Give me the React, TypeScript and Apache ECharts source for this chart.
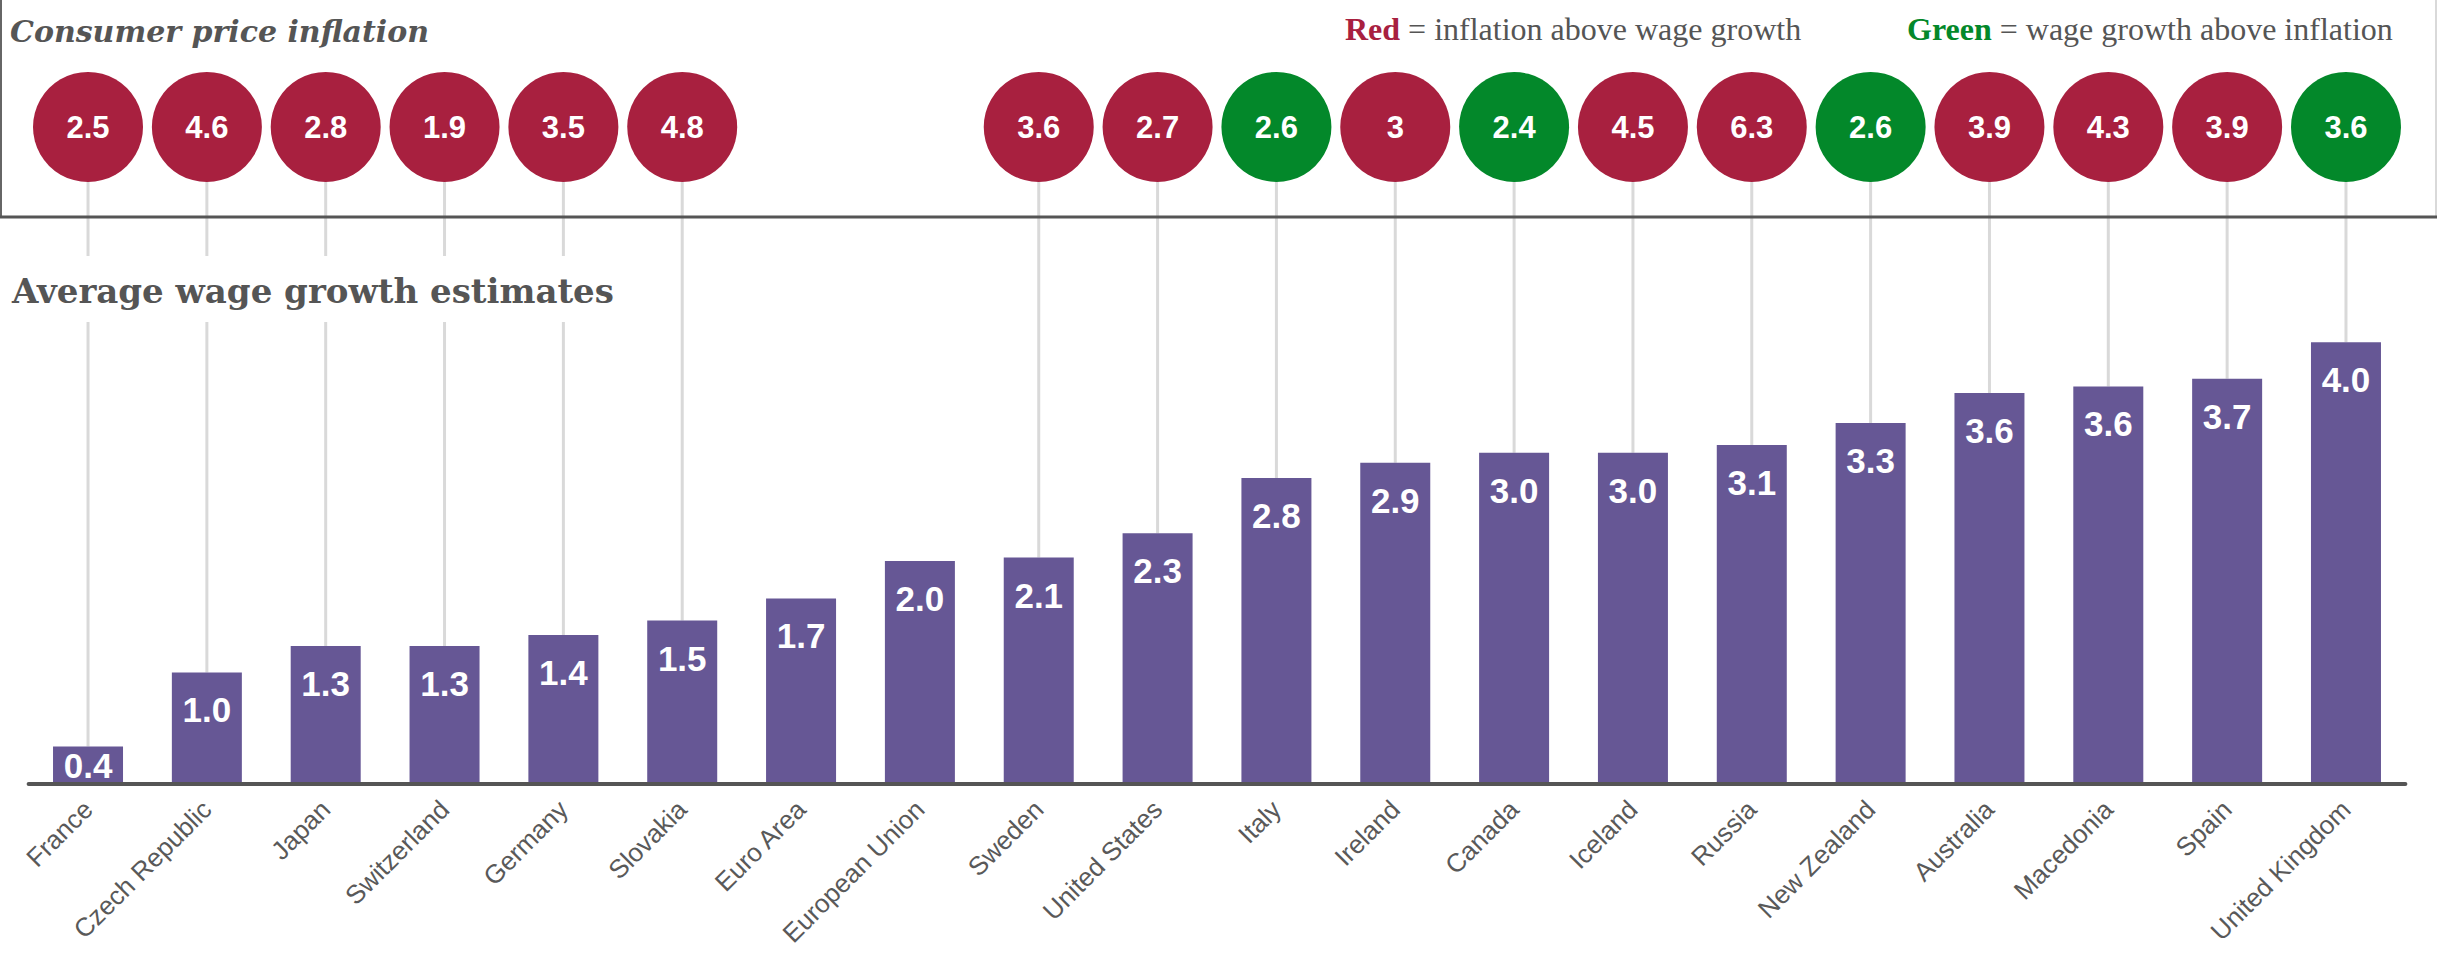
import React, { useEffect, useRef } from "react";
import * as echarts from "echarts";

const countries = [
  "France", "Czech Republic", "Japan", "Switzerland", "Germany", "Slovakia",
  "Euro Area", "European Union", "Sweden", "United States", "Italy", "Ireland",
  "Canada", "Iceland", "Russia", "New Zealand", "Australia", "Macedonia",
  "Spain", "United Kingdom",
];
// displayed wage growth estimates (labels)
const wageGrowth = [0.4, 1.0, 1.3, 1.3, 1.4, 1.5, 1.7, 2.0, 2.1, 2.3, 2.8, 2.9, 3.0, 3.0, 3.1, 3.3, 3.6, 3.6, 3.7, 4.0];
// bar heights
const barHeights = [0.34, 1.01, 1.25, 1.25, 1.35, 1.48, 1.68, 2.02, 2.05, 2.27, 2.77, 2.91, 3.0, 3.0, 3.07, 3.27, 3.54, 3.6, 3.67, 4.0];
// consumer price inflation (null = no figure)
const inflation: (number | null)[] = [2.5, 4.6, 2.8, 1.9, 3.5, 4.8, null, null, 3.6, 2.7, 2.6, 3, 2.4, 4.5, 6.3, 2.6, 3.9, 4.3, 3.9, 3.6];

const RED = "#A8203F";
const GREEN = "#03882A";
const PURPLE = "#665795";
const GRAY = "#555555";
const CIRCLE_Y = 127;
const CIRCLE_R = 55;
const SERIF = "'DejaVu Serif', Georgia, serif";
const LEGEND_SERIF = "'Liberation Serif', 'Times New Roman', serif";
const SANS = "'Liberation Sans', Arial, sans-serif";

export default function App() {
  const ref = useRef<HTMLDivElement>(null);
  useEffect(() => {
    if (!ref.current) return;
    const chart = echarts.init(ref.current, null, { renderer: "svg" });
    const circleData = inflation
      .map((v, i) => (v == null ? null : [i, barHeights[i], v, wageGrowth[i]]))
      .filter((d) => d != null);
    chart.setOption({
      animation: false,
      backgroundColor: "#ffffff",
      grid: { left: 28.6, right: 31.6, top: 121.4, bottom: 169, containLabel: false, outerBoundsMode: "none" },
      xAxis: {
        type: "category",
        data: countries,
        z: 10,
        axisTick: { show: false },
        axisLine: { lineStyle: { color: GRAY, width: 4 } },
        axisLabel: {
          interval: 0,
          rotate: 45,
          margin: 21,
          fontSize: 26,
          color: "#595959",
          fontFamily: SANS,
        },
      },
      yAxis: { type: "value", min: 0, max: 6, show: false },
      series: [
        {
          type: "custom",
          z: 2,
          clip: false,
          data: circleData,
          renderItem: (params: any, api: any) => {
            const idx = api.value(0);
            const infl = api.value(2);
            const wage = api.value(3);
            const p = api.coord([idx, api.value(1)]);
            const x = p[0];
            const top = p[1];
            const color = infl > wage ? RED : GREEN;
            return {
              type: "group",
              children: [
                {
                  type: "line",
                  shape: { x1: x, y1: CIRCLE_Y, x2: x, y2: top },
                  style: { stroke: "#d9d9d9", lineWidth: 3 },
                },
                {
                  type: "circle",
                  shape: { cx: x, cy: CIRCLE_Y, r: CIRCLE_R },
                  style: { fill: color },
                },
                {
                  type: "text",
                  x: x,
                  y: CIRCLE_Y,
                  style: {
                    text: String(infl),
                    fill: "#ffffff",
                    fontSize: 31,
                    fontWeight: "bold",
                    fontFamily: SANS,
                    align: "center",
                    verticalAlign: "middle",
                  },
                },
              ],
            };
          },
        },
        {
          type: "bar",
          z: 3,
          barWidth: 70,
          itemStyle: { color: PURPLE },
          data: barHeights.map((v, i) =>
            wageGrowth[i] < 0.6 ? { value: v, label: { position: "inside" } } : v
          ),
          label: {
            show: true,
            position: "insideTop",
            distance: 20,
            color: "#ffffff",
            fontSize: 35,
            fontWeight: "bold",
            fontFamily: SANS,
            formatter: (p: any) => wageGrowth[p.dataIndex].toFixed(1),
          },
        },
      ],
      graphic: [
        { type: "line", z: 90, shape: { x1: 1, y1: 0, x2: 1, y2: 217 }, style: { stroke: "#666666", lineWidth: 2 } },
        { type: "line", z: 90, shape: { x1: 2436, y1: 0, x2: 2436, y2: 217 }, style: { stroke: "#cccccc", lineWidth: 1.5 } },
        { type: "line", z: 90, shape: { x1: 0, y1: 217, x2: 2437, y2: 217 }, style: { stroke: GRAY, lineWidth: 3 } },
        {
          type: "text", z: 91, x: 10, y: 31,
          style: {
            text: "Consumer price inflation",
            fill: GRAY,
            fontSize: 30,
            fontWeight: "bold",
            fontStyle: "italic",
            fontFamily: SERIF,
            verticalAlign: "middle",
          },
        },
        {
          type: "text", z: 91, x: 1345, y: 28.5,
          style: {
            text: "{r|Red}{t| = inflation above wage growth}",
            verticalAlign: "middle",
            rich: {
              r: { fill: RED, fontWeight: "bold", fontSize: 32, fontFamily: LEGEND_SERIF },
              t: { fill: GRAY, fontSize: 32, fontFamily: LEGEND_SERIF },
            },
          },
        },
        {
          type: "text", z: 91, x: 1907, y: 28.5,
          style: {
            text: "{g|Green}{t| = wage growth above inflation}",
            verticalAlign: "middle",
            rich: {
              g: { fill: GREEN, fontWeight: "bold", fontSize: 32, fontFamily: LEGEND_SERIF },
              t: { fill: GRAY, fontSize: 32, fontFamily: LEGEND_SERIF },
            },
          },
        },
        { type: "rect", z: 100, shape: { x: 0, y: 256, width: 625, height: 66 }, style: { fill: "#ffffff" } },
        {
          type: "text", z: 101, x: 12, y: 291,
          style: {
            text: "Average wage growth estimates",
            fill: GRAY,
            fontSize: 34,
            fontWeight: "bold",
            fontFamily: SERIF,
            verticalAlign: "middle",
          },
        },
      ],
    });
    return () => chart.dispose();
  }, []);
  return (
    <div
      ref={ref}
      style={{ position: "fixed", left: 0, top: 0, width: 2437, height: 953, background: "#fff" }}
    />
  );
}
